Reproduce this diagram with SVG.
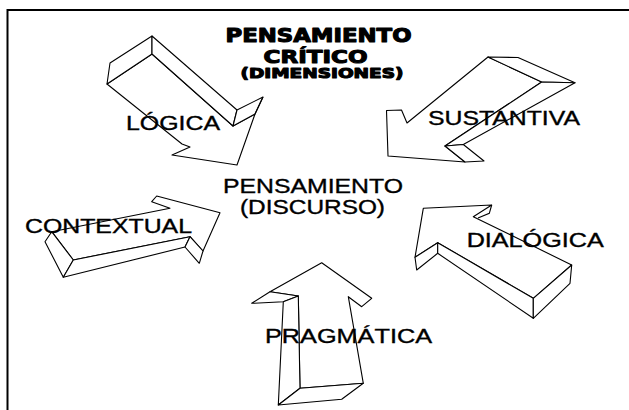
<svg xmlns="http://www.w3.org/2000/svg" width="629" height="410" viewBox="0 0 629 410">
<style>
.face{fill:#fff;stroke:#000;stroke-width:1.1;stroke-linejoin:round}
.ln{fill:none;stroke:#000;stroke-width:1.1}
.lbl{font-family:"Liberation Sans",Arial,sans-serif;font-size:19.5px;fill:#000;stroke:#000;stroke-width:0.35}
.ttl{font-family:"DejaVu Sans","Liberation Sans",sans-serif;font-weight:bold;fill:#000;stroke:#000;stroke-width:1.1;stroke-linejoin:round}
</style>
<rect width="629" height="410" fill="#fff"/>
<g id="frame">
<line x1="7.5" y1="10" x2="629" y2="10" stroke="#000" stroke-width="2"/>
<line x1="7.5" y1="9" x2="7.5" y2="410" stroke="#000" stroke-width="2"/>
</g>
<g id="title">
<text class="ttl" x="225.5" y="42" font-size="19" textLength="186" lengthAdjust="spacingAndGlyphs">PENSAMIENTO</text>
<text class="ttl" x="263.5" y="63" font-size="18" textLength="104" lengthAdjust="spacingAndGlyphs">CRÍTICO</text>
<text class="ttl" x="240.5" y="78" font-size="14" textLength="163" lengthAdjust="spacingAndGlyphs">(DIMENSIONES)</text>
</g>
<g id="logica">
<polygon class="face" points="107,84 152,54 233,126 255,114 237,165 172,155 190,147 182,144"/>
<polygon class="face" points="110,63 152,36 152,54 107,84"/>
<polygon class="face" points="152,36 237,110 233,126 152,54"/>
<polygon class="face" points="237,110 263,97 255,114 233,126"/>
<line class="ln" x1="263" y1="97" x2="255" y2="114"/>
<text class="lbl" x="126" y="129.5" textLength="94" lengthAdjust="spacingAndGlyphs">LÓGICA</text>
</g>
<g id="sustantiva">
<polygon class="face" points="488,57 541.7,82 445,146 465,162 388,156 386.5,110.5 401.5,110 407,123"/>
<polygon class="face" points="488,57 518,57.5 575,82.7 541.7,82"/>
<polygon class="face" points="541.7,82 575,82.7 463.3,144.5 445,146"/>
<polygon class="face" points="445,146 463.3,144.5 484,161 465,162"/>
<text class="lbl" x="428" y="125" textLength="152" lengthAdjust="spacingAndGlyphs">SUSTANTIVA</text>
</g>
<g id="contextual">
<polygon class="face" points="51.7,231.7 170,208.3 151.7,201.7 156.7,196 220,212.7 203,251 190,236.7 73.3,260"/>
<polygon class="face" points="51.7,231.7 73.3,260 63.3,277.3 45,241.7"/>
<polygon class="face" points="73.3,260 190,236.7 185,247 63.3,277.3"/>
<polygon class="face" points="190,236.7 203,251 199.3,263.3 185,247"/>
<text class="lbl" x="25" y="233" textLength="167" lengthAdjust="spacingAndGlyphs">CONTEXTUAL</text>
</g>
<g id="pragmatica">
<polygon class="face" points="321.7,262.7 371.7,298.3 361.7,306.7 348.3,296.7 363.3,383.3 300,388.3 298.3,296 270,291.7"/>
<polygon class="face" points="270,291.7 298.3,296 283.3,301.7 251.7,303.3"/>
<polygon class="face" points="298.3,296 300,388.3 278.3,405 283.3,301.7"/>
<polygon class="face" points="300,388.3 363.3,383.3 341.7,399.3 278.3,405"/>
<text class="lbl" x="265" y="343" textLength="167" lengthAdjust="spacingAndGlyphs">PRAGMÁTICA</text>
</g>
<g id="dialogica">
<polygon class="face" points="423.3,208.3 491.7,205 473.3,216.7 571.7,265 533.3,298.3 437.7,242.7 415,257.3"/>
<polygon class="face" points="415,257.3 437.7,242.7 437.7,253.3 416.7,270"/>
<polygon class="face" points="437.7,242.7 533.3,298.3 533.3,318.3 437.7,253.3"/>
<polygon class="face" points="533.3,298.3 571.7,265 570,283.3 533.3,318.3"/>
<polyline class="ln" points="491.7,205 489.3,213.3 478,218"/>
<text class="lbl" x="466.7" y="247" textLength="137" lengthAdjust="spacingAndGlyphs">DIALÓGICA</text>
</g>
<g id="centro">
<text class="lbl" x="223" y="193" font-size="18" textLength="180" lengthAdjust="spacingAndGlyphs">PENSAMIENTO</text>
<text class="lbl" x="240" y="214" font-size="17" textLength="145" lengthAdjust="spacingAndGlyphs">(DISCURSO)</text>
</g>
</svg>
